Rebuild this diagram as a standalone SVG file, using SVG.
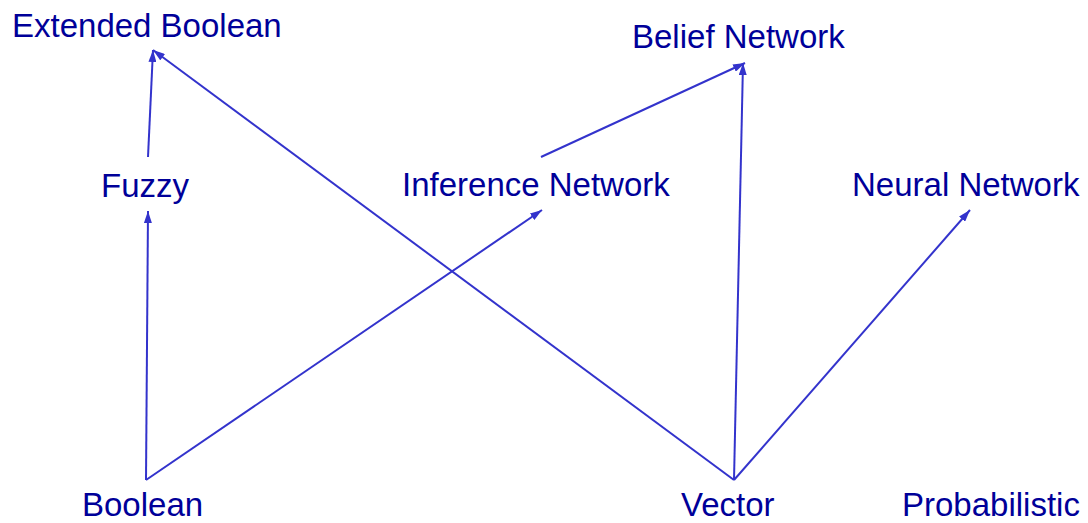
<svg xmlns="http://www.w3.org/2000/svg" width="1088" height="523" viewBox="0 0 1088 523">
<style>
.lbl{font-family:"Liberation Sans",Arial,sans-serif;font-size:33px;fill:#000099}
.edge{stroke:#3333cc;stroke-width:2;fill:none;marker-end:url(#ah)}
</style>
<defs>
<marker id="ah" viewBox="0 0 12 8" refX="12" refY="4" markerWidth="12" markerHeight="8" markerUnits="userSpaceOnUse" orient="auto">
<path d="M0,0 L12,4 L0,8 Z" fill="#3333cc"/>
</marker>
</defs>
<rect width="1088" height="523" fill="#ffffff"/>
<g id="connectors">
<line class="edge" x1="148" y1="157" x2="153" y2="50"/>
<line class="edge" x1="146" y1="480" x2="148" y2="211"/>
<line class="edge" x1="146" y1="480" x2="542" y2="210"/>
<line class="edge" x1="541" y1="157" x2="745" y2="63"/>
<line class="edge" x1="734" y1="480" x2="153" y2="50"/>
<line class="edge" x1="734" y1="480" x2="743" y2="63"/>
<line class="edge" x1="734" y1="480" x2="970" y2="210"/>
</g>
<g id="extended-boolean"><text class="lbl" x="12" y="37">Extended Boolean</text></g>
<g id="belief-network"><text class="lbl" x="632" y="48">Belief Network</text></g>
<g id="fuzzy"><text class="lbl" x="101" y="197">Fuzzy</text></g>
<g id="inference-network"><text class="lbl" x="402" y="196">Inference Network</text></g>
<g id="neural-network"><text class="lbl" x="852" y="196">Neural Network</text></g>
<g id="boolean"><text class="lbl" x="82" y="516">Boolean</text></g>
<g id="vector"><text class="lbl" x="681" y="516">Vector</text></g>
<g id="probabilistic"><text class="lbl" x="902" y="516">Probabilistic</text></g>
</svg>
